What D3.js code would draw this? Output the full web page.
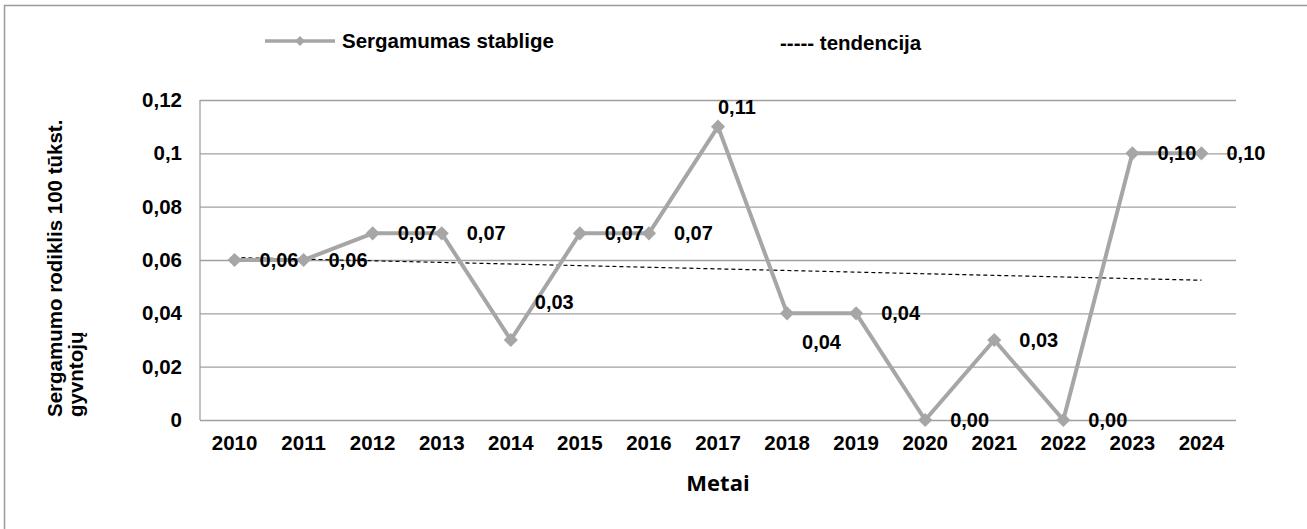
<!DOCTYPE html>
<html>
<head>
<meta charset="utf-8">
<script src="https://cdn.jsdelivr.net/npm/d3@7"></script>
<style>
  body { margin: 0; background: #fff; }
  svg text { font-family: "Liberation Sans", Arial, sans-serif; font-weight: bold; fill: #000; }
</style>
</head>
<body>
<svg id="chart" width="1307" height="529"></svg>
<script>
// Data
const years = ["2010", "2011", "2012", "2013", "2014", "2015", "2016", "2017",
               "2018", "2019", "2020", "2021", "2022", "2023", "2024"];
const values = [0.06, 0.06, 0.07, 0.07, 0.03, 0.07, 0.07, 0.11,
                0.04, 0.04, 0.00, 0.03, 0.00, 0.10, 0.10];
const yTicks = [0, 0.02, 0.04, 0.06, 0.08, 0.1, 0.12];
const seriesName = "Sergamumas stablige";
const trendName = "----- tendencija";
const xTitle = "Metai";
const yTitleLines = ["Sergamumo rodiklis 100 tūkst.", "gyvntojų"];
// where each data label sits relative to its point
const labelPlacement = ["right", "right", "right", "right", "above", "right", "right", "top",
                        "below", "right", "right", "right", "right", "right", "right"];

const margin = {top: 100, right: 71, bottom: 109, left: 200},
    width = 1307 - margin.left - margin.right,
    height = 529 - margin.top - margin.bottom;

const lt = d3.formatLocale({decimal: ",", thousands: " ", grouping: [3], currency: ["", ""]});
const tickFmt = lt.format("~g");
const labelFmt = lt.format(".2f");

const gray = "#a6a6a6";
const gridGray = "#a0a0a0";

const root = d3.select("#chart");

// outer chart border (only left and top visible)
root.append("rect")
    .attr("x", 4.5).attr("y", 5.5)
    .attr("width", 1320).attr("height", 540)
    .attr("fill", "none")
    .attr("stroke", "#9a9a9a")
    .attr("stroke-width", 1.5);

const svg = root.append("g")
    .attr("transform", `translate(${margin.left},${margin.top})`);

const xScale = d3.scaleBand()
    .domain(years)
    .range([0, width])
    .padding(0);

const yScale = d3.scaleLinear()
    .domain([0, 0.12])
    .range([height, 0]);

const cx = d => xScale(d) + xScale.bandwidth() / 2;

// gridlines + y tick labels
const yAxis = svg.append("g")
    .call(d3.axisLeft(yScale).tickValues(yTicks).tickFormat(tickFmt).tickSize(-width).tickPadding(18));
yAxis.select(".domain").remove();
yAxis.selectAll(".tick line").attr("stroke", gridGray).attr("stroke-width", 1.3);
yAxis.selectAll(".tick text")
    .attr("font-size", 20.5)
    .attr("font-family", null)
    .attr("fill", "#000");

// left axis line
svg.append("line")
    .attr("x1", 0).attr("x2", 0)
    .attr("y1", 0).attr("y2", height)
    .attr("stroke", gridGray).attr("stroke-width", 1.3);

// x tick labels
const xAxis = svg.append("g")
    .attr("transform", `translate(0,${height})`)
    .call(d3.axisBottom(xScale).tickSize(0).tickPadding(15));
xAxis.select(".domain").remove();
xAxis.selectAll(".tick text")
    .attr("font-size", 20.5)
    .attr("font-family", null)
    .attr("fill", "#000");

// trend line (least squares fit of the series, like the spreadsheet trendline)
const n = values.length;
const xs = d3.range(n);
const mx = d3.mean(xs), my = d3.mean(values);
const slope = d3.sum(xs, i => (i - mx) * (values[i] - my)) / d3.sum(xs, i => (i - mx) ** 2);
const icpt = my - slope * mx;
svg.append("line")
    .attr("x1", cx(years[0])).attr("y1", yScale(icpt))
    .attr("x2", cx(years[n - 1])).attr("y2", yScale(icpt + slope * (n - 1)))
    .attr("stroke", "#000")
    .attr("stroke-width", 1.2)
    .attr("stroke-dasharray", "4,3");

// series line
const line = d3.line()
    .x((d, i) => cx(years[i]))
    .y(d => yScale(d));

svg.append("path")
    .datum(values)
    .attr("fill", "none")
    .attr("stroke", gray)
    .attr("stroke-width", 4)
    .attr("stroke-linejoin", "round")
    .attr("d", line);

// diamond markers
svg.selectAll(".marker")
    .data(values)
    .join("rect")
    .attr("class", "marker")
    .attr("x", -5).attr("y", -5)
    .attr("width", 10).attr("height", 10)
    .attr("fill", gray)
    .attr("transform", (d, i) => `translate(${cx(years[i])},${yScale(d)}) rotate(45)`);

// data labels
const offsets = {
    right: [25, 0],
    above: [24, -38],
    top: [0, -20],
    below: [15, 29]
};
svg.selectAll(".dlabel")
    .data(values)
    .join("text")
    .attr("class", "dlabel")
    .attr("x", (d, i) => cx(years[i]) + offsets[labelPlacement[i]][0])
    .attr("y", (d, i) => yScale(d) + offsets[labelPlacement[i]][1])
    .attr("dy", "0.35em")
    .attr("font-size", 20)
    .text(d => labelFmt(d));

// x axis title
root.append("text")
    .attr("x", margin.left + width / 2)
    .attr("y", 491)
    .attr("text-anchor", "middle")
    .attr("font-size", 22)
    .style("font-family", "'Open Sans', sans-serif")
    .text(xTitle);

// y axis title (two lines, rotated)
const yt = root.append("text")
    .attr("transform", "translate(62,417) rotate(-90)")
    .attr("font-size", 20.5);
yTitleLines.forEach((t, i) => {
    yt.append("tspan")
        .attr("x", 0)
        .attr("y", i * 21)
        .text(t);
});

// legend
const lg = root.append("g");
lg.append("line")
    .attr("x1", 265).attr("x2", 335)
    .attr("y1", 41).attr("y2", 41)
    .attr("stroke", gray).attr("stroke-width", 3.5);
lg.append("rect")
    .attr("x", -3.5).attr("y", -3.5)
    .attr("width", 7).attr("height", 7)
    .attr("fill", gray)
    .attr("transform", "translate(300,41) rotate(45)");
lg.append("text")
    .attr("x", 342).attr("y", 41)
    .attr("dy", "0.35em")
    .attr("font-size", 20.5)
    .text(seriesName);
lg.append("text")
    .attr("x", 780).attr("y", 43)
    .attr("dy", "0.35em")
    .attr("font-size", 20.5)
    .text(trendName);
</script>
</body>
</html>
